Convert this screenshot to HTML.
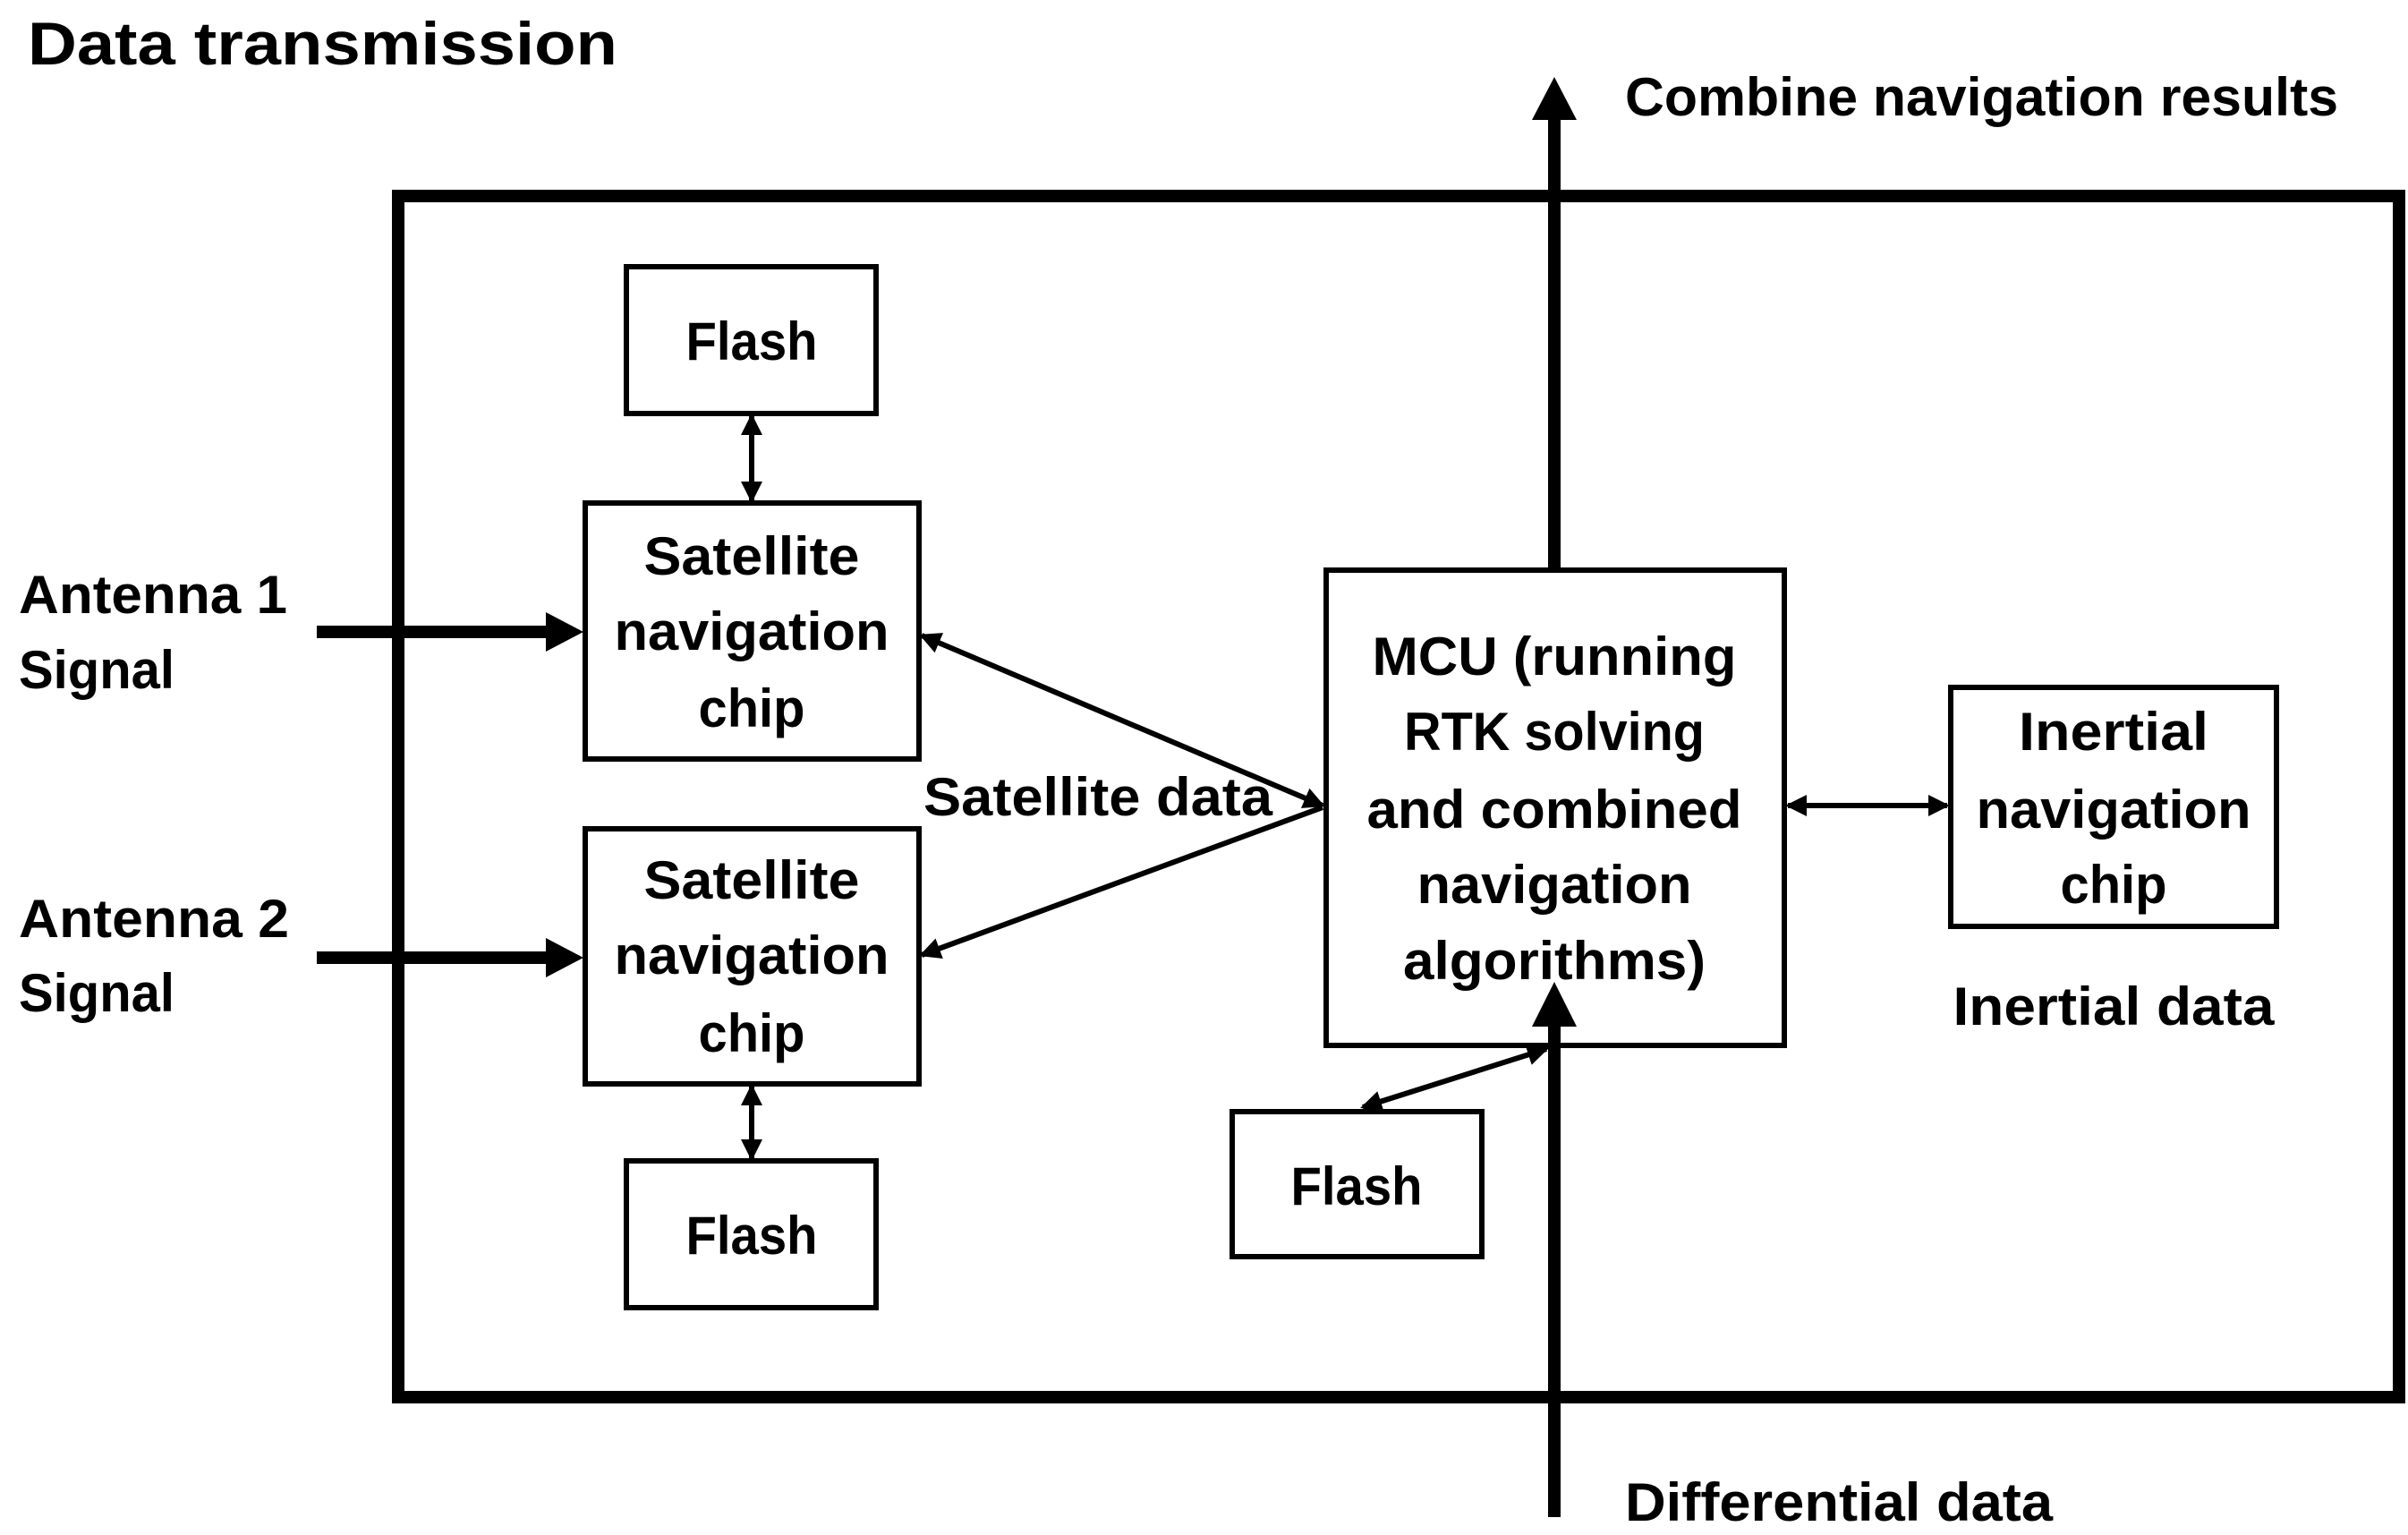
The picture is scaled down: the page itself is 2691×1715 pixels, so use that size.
<!DOCTYPE html>
<html><head><meta charset="utf-8"><style>
html,body{margin:0;padding:0;background:#fff;}
svg{display:block;}
text{font-family:"Liberation Sans",sans-serif;font-weight:bold;fill:#000;}
</style></head><body>
<svg width="2691" height="1715" viewBox="0 0 2691 1715" xmlns="http://www.w3.org/2000/svg">
<defs>
<marker id="h" markerWidth="6" markerHeight="6" refX="5" refY="3" orient="auto-start-reverse" markerUnits="strokeWidth"><path d="M0,0 L6,3 L0,6 Z" fill="#000"/></marker>
<marker id="hb" markerWidth="4" markerHeight="4" refX="3.5" refY="2" orient="auto-start-reverse" markerUnits="strokeWidth"><path d="M0,0 L4,2 L0,4 Z" fill="#000"/></marker>
</defs>
<rect width="2691" height="1715" fill="#fff"/>
<text x="31" y="72" font-size="68" textLength="659" lengthAdjust="spacingAndGlyphs">Data transmission</text>
<text x="1816" y="129" font-size="60" textLength="797" lengthAdjust="spacingAndGlyphs">Combine navigation results</text>

<rect x="445" y="219" width="2236" height="1342" fill="none" stroke="#000" stroke-width="14"/>

<g fill="#fff" stroke="#000" stroke-width="6">
<rect x="700" y="298" width="279" height="164"/>
<rect x="654" y="562" width="373" height="286"/>
<rect x="654" y="926" width="373" height="285"/>
<rect x="700" y="1297" width="279" height="164"/>
<rect x="1482" y="637" width="512" height="531"/>
<rect x="2180" y="768" width="364" height="267"/>
<rect x="1377" y="1242" width="279" height="162"/>
</g>

<!-- thick arrows -->
<line x1="1737" y1="637" x2="1737" y2="120" stroke="#000" stroke-width="14"/>
<path d="M1712,134 L1737,86 L1762,134 Z" fill="#000"/>
<line x1="1737" y1="1695" x2="1737" y2="1140" stroke="#000" stroke-width="14"/>
<path d="M1712,1147 L1737,1097 L1762,1147 Z" fill="#000"/>
<line x1="354" y1="706" x2="615" y2="706" stroke="#000" stroke-width="14"/>
<path d="M610,684 L652,706 L610,728 Z" fill="#000"/>
<line x1="354" y1="1070" x2="615" y2="1070" stroke="#000" stroke-width="14"/>
<path d="M610,1048 L652,1070 L610,1092 Z" fill="#000"/>

<!-- thin double arrows -->
<g stroke="#000" stroke-width="6" fill="none">
<line x1="1030" y1="710" x2="1478" y2="900" marker-start="url(#hb)" marker-end="url(#hb)"/>
<line x1="1030" y1="1067" x2="1478" y2="902" marker-start="url(#hb)"/>
<line x1="1998" y1="900" x2="2176" y2="900" marker-start="url(#hb)" marker-end="url(#hb)"/>
<line x1="1728" y1="1172" x2="1523" y2="1237" marker-start="url(#hb)" marker-end="url(#hb)"/>
<line x1="840" y1="465" x2="840" y2="559" marker-start="url(#hb)" marker-end="url(#hb)"/>
<line x1="840" y1="1214" x2="840" y2="1294" marker-start="url(#hb)" marker-end="url(#hb)"/>
</g>

<g font-size="60">
<text x="21" y="685" textLength="300" lengthAdjust="spacingAndGlyphs">Antenna 1</text>
<text x="21" y="769" textLength="174" lengthAdjust="spacingAndGlyphs">Signal</text>
<text x="21" y="1047" textLength="302" lengthAdjust="spacingAndGlyphs">Antenna 2</text>
<text x="21" y="1130" textLength="174" lengthAdjust="spacingAndGlyphs">Signal</text>
<text x="1032" y="911" textLength="390" lengthAdjust="spacingAndGlyphs">Satellite data</text>
<text x="1816" y="1699" textLength="478" lengthAdjust="spacingAndGlyphs">Differential data</text>
</g>
<g font-size="60" text-anchor="middle">
<text x="840" y="402" textLength="147" lengthAdjust="spacingAndGlyphs">Flash</text>
<text x="840" y="1401" textLength="147" lengthAdjust="spacingAndGlyphs">Flash</text>
<text x="1516" y="1346" textLength="147" lengthAdjust="spacingAndGlyphs">Flash</text>
<text x="840" y="642" textLength="241" lengthAdjust="spacingAndGlyphs">Satellite</text>
<text x="840" y="726" textLength="307" lengthAdjust="spacingAndGlyphs">navigation</text>
<text x="840" y="812" textLength="119" lengthAdjust="spacingAndGlyphs">chip</text>
<text x="840" y="1004" textLength="241" lengthAdjust="spacingAndGlyphs">Satellite</text>
<text x="840" y="1088" textLength="307" lengthAdjust="spacingAndGlyphs">navigation</text>
<text x="840" y="1175" textLength="119" lengthAdjust="spacingAndGlyphs">chip</text>
<text x="1737" y="754" textLength="407" lengthAdjust="spacingAndGlyphs">MCU (running</text>
<text x="1737" y="838" textLength="336" lengthAdjust="spacingAndGlyphs">RTK solving</text>
<text x="1737" y="925" textLength="419" lengthAdjust="spacingAndGlyphs">and combined</text>
<text x="1737" y="1009" textLength="307" lengthAdjust="spacingAndGlyphs">navigation</text>
<text x="1737" y="1094" textLength="338" lengthAdjust="spacingAndGlyphs">algorithms)</text>
<text x="2362" y="838" textLength="212" lengthAdjust="spacingAndGlyphs">Inertial</text>
<text x="2362" y="925" textLength="307" lengthAdjust="spacingAndGlyphs">navigation</text>
<text x="2362" y="1009" textLength="119" lengthAdjust="spacingAndGlyphs">chip</text>
<text x="2362" y="1145" textLength="359" lengthAdjust="spacingAndGlyphs">Inertial data</text>
</g>
</svg>
</body></html>
